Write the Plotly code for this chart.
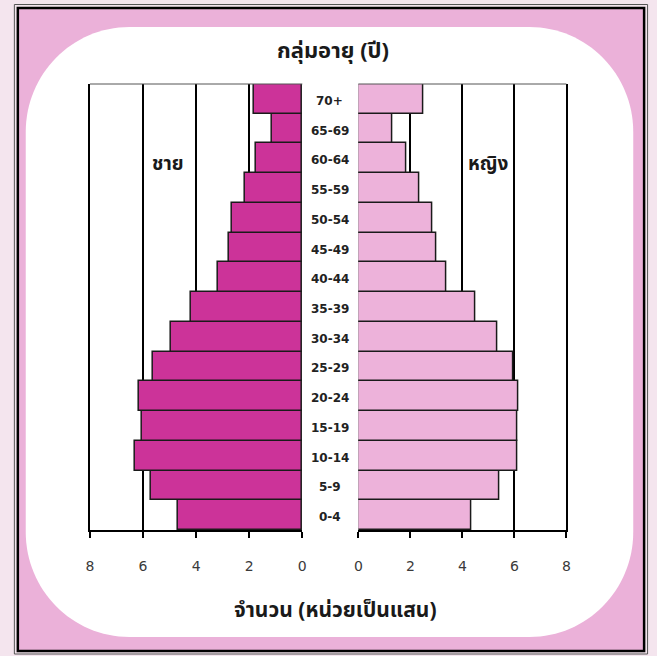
import plotly.graph_objects as go

ages = ["0-4", "5-9", "10-14", "15-19", "20-24", "25-29", "30-34", "35-39",
        "40-44", "45-49", "50-54", "55-59", "60-64", "65-69", "70+"]
male = [4.67, 5.69, 6.31, 6.05, 6.16, 5.63, 4.94, 4.20,
        3.19, 2.78, 2.64, 2.17, 1.76, 1.14, 1.82]
female = [4.36, 5.41, 6.11, 6.11, 6.17, 5.97, 5.35, 4.51,
          3.40, 2.99, 2.84, 2.34, 1.86, 1.32, 2.49]
tick_vals = [0, 2, 4, 6, 8]
tick_text = ["0", "2", "4", "6", "8"]

W, H = 657, 656
def px(x):
    return x / W
def py(y):
    return 1 - y / H

MALE_COLOR = "#CC3399"
FEMALE_COLOR = "#EDB2DA"
PINK_BG = "#EBB1D9"
OUTER_BG = "#F4E5EE"
THAI_FONT = "Noto Sans Thai, Tahoma, Loma, Garuda, DejaVu Sans, sans-serif"
NUM_FONT = "DejaVu Sans, Verdana, sans-serif"

fig = go.Figure()
fig.add_trace(go.Bar(y=ages, x=male, orientation="h", xaxis="x", yaxis="y",
                     marker=dict(color=MALE_COLOR, line=dict(color="#1a1a1a", width=1.5)),
                     showlegend=False, hoverinfo="x+y"))
fig.add_trace(go.Bar(y=ages, x=female, orientation="h", xaxis="x2", yaxis="y2",
                     marker=dict(color=FEMALE_COLOR, line=dict(color="#1a1a1a", width=1.5)),
                     showlegend=False, hoverinfo="x+y"))

axis_common = dict(tickmode="array", tickvals=tick_vals, ticktext=tick_text,
                   showgrid=True, gridcolor="#000000", gridwidth=1.5,
                   zeroline=False, showline=True, linecolor="#000000", linewidth=2,
                   ticks="outside", ticklen=6, tickwidth=1.5, tickcolor="#000000",
                   tickfont=dict(family=NUM_FONT, size=14, color="#3a3a3a"),
                   ticklabelstandoff=16, fixedrange=True)
yaxis_common = dict(showticklabels=False, showgrid=False, zeroline=False,
                    showline=True, linecolor="#000000", linewidth=1.5,
                    ticks="", fixedrange=True,
                    categoryorder="array", categoryarray=ages,
                    domain=[py(530), py(84)])

# rounded white panel (cubic bezier corners)
x0, x1, y0, y1, r = 22, 637, 27, 637, 105
k = 0.5523 * r
def P(x, y):
    return f"{px(x):.5f},{py(y):.5f}"
path = (f"M {P(x0 + r, y0)} L {P(x1 - r, y0)} "
        f"C {P(x1 - r + k, y0)} {P(x1, y0 + r - k)} {P(x1, y0 + r)} "
        f"L {P(x1, y1 - r)} "
        f"C {P(x1, y1 - r + k)} {P(x1 - r + k, y1)} {P(x1 - r, y1)} "
        f"L {P(x0 + r, y1)} "
        f"C {P(x0 + r - k, y1)} {P(x0, y1 - r + k)} {P(x0, y1 - r)} "
        f"L {P(x0, y0 + r)} "
        f"C {P(x0, y0 + r - k)} {P(x0 + r - k, y0)} {P(x0 + r, y0)} Z")

shapes = [
    dict(type="rect", xref="paper", yref="paper", x0=px(10.5), x1=px(651.5),
         y0=py(654), y1=py(4.5), line=dict(color="#555555", width=1), layer="below"),
    dict(type="rect", xref="paper", yref="paper", x0=px(14), x1=px(648),
         y0=py(651), y1=py(8), fillcolor=PINK_BG, line=dict(color="#000000", width=2.5),
         layer="below"),
    dict(type="path", xref="paper", yref="paper", path=path, fillcolor="#FFFFFF",
         line=dict(width=0), layer="below"),
    dict(type="line", xref="x domain", yref="y domain", x0=0, x1=1, y0=1, y1=1,
         line=dict(color="#555555", width=1)),
    dict(type="line", xref="x2 domain", yref="y2 domain", x0=0, x1=1, y0=1, y1=1,
         line=dict(color="#555555", width=1)),
]

annotations = [
    dict(text=a, x=px(330), xref="paper", y=a, yref="y", showarrow=False,
         xanchor="center", yanchor="middle", yshift=-2,
         font=dict(family=NUM_FONT, size=12, color="#222222", weight="bold"))
    for a in ages
]
annotations += [
    dict(text="กลุ่มอายุ (ปี)", x=px(333), y=py(51), xref="paper", yref="paper",
         showarrow=False, xanchor="center", yanchor="middle",
         font=dict(family=THAI_FONT, size=22, color="#1a1a1a", weight="bold")),
    dict(text="จำนวน (หน่วยเป็นแสน)", x=px(336), y=py(610), xref="paper", yref="paper",
         showarrow=False, xanchor="center", yanchor="middle",
         font=dict(family=THAI_FONT, size=21, color="#1a1a1a", weight="bold")),
    dict(text="ชาย", x=px(166), y=py(164), xref="paper", yref="paper",
         showarrow=False, xanchor="center", yanchor="middle",
         font=dict(family=THAI_FONT, size=19, color="#1a1a1a", weight="bold")),
    dict(text="หญิง", x=px(490), y=py(164), xref="paper", yref="paper",
         showarrow=False, xanchor="center", yanchor="middle",
         font=dict(family=THAI_FONT, size=19, color="#1a1a1a", weight="bold")),
]

fig.update_layout(
    width=W, height=H, autosize=False,
    margin=dict(l=0, r=0, t=0, b=0, pad=0),
    paper_bgcolor=OUTER_BG, plot_bgcolor="rgba(0,0,0,0)",
    bargap=0,
    xaxis=dict(domain=[px(87), px(302)], range=[8, 0], anchor="y", **axis_common),
    xaxis2=dict(domain=[px(358.7), px(569.3)], range=[0, 8], anchor="y2", **axis_common),
    yaxis=dict(anchor="x", side="left", **yaxis_common),
    yaxis2=dict(anchor="x2", side="right", **yaxis_common),
    shapes=shapes,
    annotations=annotations,
)

fig.write_html("out.html", config={"displayModeBar": False},
               post_script="document.body.style.margin='0px';document.body.style.overflow='hidden';")
